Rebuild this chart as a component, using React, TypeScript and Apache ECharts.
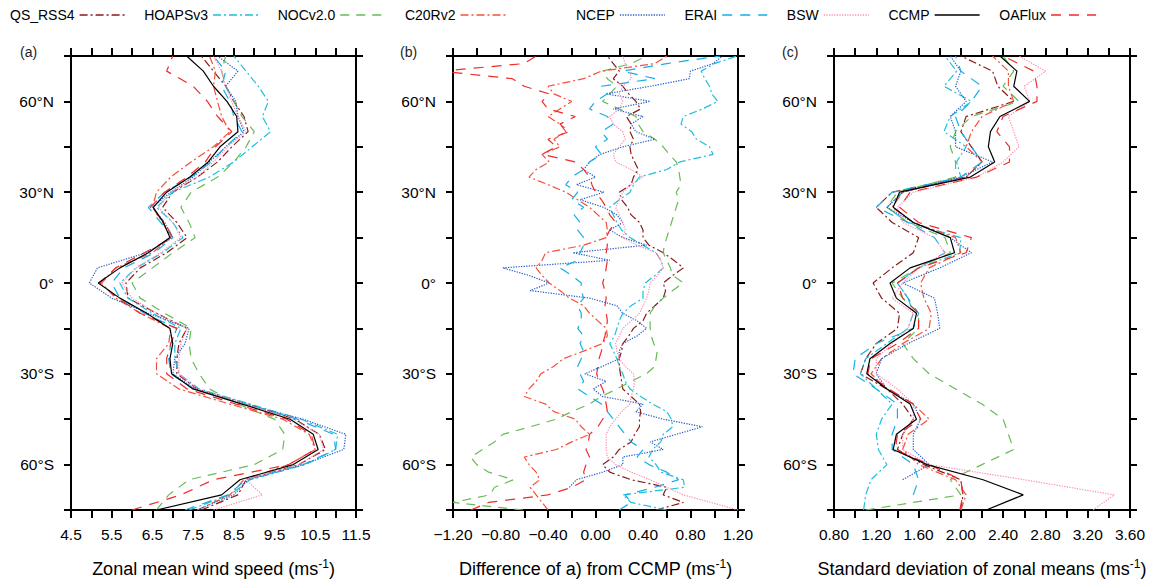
import React, { useEffect, useRef } from 'react';
import * as echarts from 'echarts';

// Latitudes (degrees, south negative) for panels (a) and (c)
const LAT = [-75, -70, -65, -60, -55, -50, -45, -40, -35, -30, -25, -20, -15, -10, -5, 0, 5, 10, 15, 20, 25, 30, 35, 40, 45, 50, 55, 60, 65, 70, 75];
// Finer latitudes for panel (b)
const LAT_B = [-75, -72.5, -70, -67.5, -65, -62.5, -60, -57.5, -55, -52.5, -50, -47.5, -45, -42.5, -40, -37.5, -35, -32.5, -30, -27.5, -25, -22.5, -20, -17.5, -15, -12.5, -10, -7.5, -5, -2.5, 0, 2.5, 5, 7.5, 10, 12.5, 15, 17.5, 20, 22.5, 25, 27.5, 30, 32.5, 35, 37.5, 40, 42.5, 45, 47.5, 50, 52.5, 55, 57.5, 60, 62.5, 65, 67.5, 70, 72.5, 75];

const LEGEND_LEFT = ['QS_RSS4', 'HOAPSv3', 'NOCv2.0', 'C20Rv2'];
const LEGEND_RIGHT = ['NCEP', 'ERAI', 'BSW', 'CCMP', 'OAFlux'];
const NAMES = [...LEGEND_LEFT, ...LEGEND_RIGHT];

// ---- Panel (a): zonal mean wind speed (m/s)
const QS_RSS4_A = [7.7, 8.6, 8.8, 10.1, 10.75, 10.6, 10.0, 8.85, 7.6, 7.1, 7.1, 7.15, 7.35, 6.6, 5.9, 5.85, 6.2, 6.85, 7.35, 7.1, 6.75, 7.0, 7.6, 8.1, 8.45, 8.85, 8.75, 8.5, 8.3, 8.0, 7.7];
const HOAPSV3_A = [7.4, 8.4, 8.9, 10.25, 11.0, 11.05, 10.15, 8.9, 7.65, 7.15, 7.05, 7.05, 7.2, 6.5, 5.9, 5.7, 6.1, 6.75, 7.25, 7.0, 6.6, 7.0, 7.9, 8.5, 8.95, 9.4, 9.2, 9.35, 9.1, 8.8, 8.5];
const NOCV2_A = [6.6, 6.9, 7.4, 9.0, 9.7, 9.75, 9.5, 8.6, 7.9, 7.65, 7.45, 7.4, 7.45, 6.8, 6.2, 6.0, 6.5, 7.0, 7.55, 7.4, 7.2, 7.45, 8.1, 8.5, 8.8, 9.0, 8.7, 8.5, 8.3, 8.2, 8.3];
const C20RV2_A = [7.6, 8.4, 8.75, 9.85, 10.5, 10.35, 9.7, 8.4, 7.15, 6.6, 6.6, 6.9, 6.95, 6.2, 5.6, 5.25, 5.6, 6.5, 6.95, 6.75, 6.5, 6.6, 6.95, 7.45, 8.0, 8.4, 8.2, 8.1, 8.0, 8.05, 7.9];
const NCEP_A = [7.6, 8.5, 8.85, 10.2, 11.2, 11.25, 10.2, 8.75, 7.55, 7.0, 7.05, 7.3, 7.4, 6.4, 5.5, 4.95, 5.15, 6.35, 7.0, 6.8, 6.5, 6.95, 7.5, 7.9, 8.3, 8.75, 8.6, 8.55, 8.3, 8.6, 8.1];
const ERAI_A = [7.3, 8.35, 8.8, 10.2, 11.0, 10.95, 10.05, 8.8, 7.5, 6.95, 6.9, 6.95, 7.1, 6.3, 5.7, 5.5, 5.8, 6.55, 7.0, 6.7, 6.4, 6.8, 7.45, 7.95, 8.3, 8.7, 8.5, 8.4, 8.2, 8.3, 8.0];
const BSW_A = [8.0, 9.2, 8.8, 10.1, 10.7, 10.6, 9.95, 8.8, 7.6, 7.15, 7.15, 7.2, 7.35, 6.6, 6.0, 5.75, 6.1, 6.7, 7.2, 7.0, 6.65, 6.95, 7.6, 8.0, 8.35, 8.8, 8.6, 8.45, 8.3, 8.2, 8.0];
const CCMP_A = [6.6, 8.2, 8.65, 9.96, 10.57, 10.45, 9.88, 8.7, 7.5, 6.97, 6.93, 7.0, 6.93, 6.36, 5.7, 5.17, 5.7, 6.4, 6.93, 6.77, 6.52, 6.85, 7.42, 7.87, 8.16, 8.6, 8.57, 8.33, 8.0, 7.75, 7.34];
const OAFLUX_A = [6.0, 7.2, 8.0, 9.85, 10.5, 10.4, 9.8, 8.55, 7.35, 6.85, 6.85, 6.95, 7.1, 6.2, 5.65, 5.2, 5.6, 6.3, 7.0, 6.8, 6.45, 6.8, 7.35, 7.8, 8.05, 8.45, 8.1, 7.85, 7.5, 6.85, 7.0];

// ---- Panel (b): difference from CCMP (m/s), on LAT_B
const QS_RSS4_B = [0.51, 0.74, 0.57, 0.6, 0.3, 0.12, 0.06, 0.15, 0.2, 0.3, 0.33, 0.37, 0.37, 0.38, 0.37, 0.3, 0.23, 0.22, 0.21, 0.2, 0.2, 0.22, 0.23, 0.28, 0.32, 0.4, 0.43, 0.5, 0.57, 0.59, 0.57, 0.65, 0.74, 0.66, 0.57, 0.45, 0.4, 0.4, 0.37, 0.3, 0.27, 0.22, 0.2, 0.3, 0.32, 0.36, 0.33, 0.3, 0.29, 0.32, 0.29, 0.3, 0.26, 0.38, 0.34, 0.28, 0.23, 0.15, 0.2, 0.15, 0.1];
const HOAPSV3_B = [0.6, 0.3, 0.23, 0.75, 0.74, 0.55, 0.51, 0.45, 0.48, 0.55, 0.57, 0.65, 0.64, 0.6, 0.48, 0.38, 0.29, 0.25, 0.23, 0.2, 0.18, 0.15, 0.12, 0.16, 0.18, 0.2, 0.23, 0.3, 0.4, 0.4, 0.42, 0.5, 0.57, 0.55, 0.51, 0.4, 0.29, 0.22, 0.18, 0.15, 0.12, 0.2, 0.29, 0.32, 0.37, 0.6, 0.71, 0.99, 0.96, 0.85, 0.81, 0.72, 0.74, 0.9, 1.03, 0.98, 0.96, 0.92, 0.89, 1.0, 1.19];
const NOCV2_B = [-0.61, -1.2, -0.89, -0.85, -0.69, -0.9, -1.0, -1.05, -0.95, -0.85, -0.78, -0.55, -0.33, -0.2, -0.05, 0.05, 0.18, 0.3, 0.43, 0.5, 0.51, 0.52, 0.49, 0.47, 0.46, 0.46, 0.46, 0.5, 0.57, 0.65, 0.74, 0.65, 0.63, 0.6, 0.57, 0.58, 0.6, 0.62, 0.64, 0.66, 0.68, 0.7, 0.68, 0.72, 0.71, 0.7, 0.68, 0.62, 0.57, 0.5, 0.4, 0.36, 0.34, 0.2, 0.06, 0.12, 0.18, 0.1, 0.06, 0.3, 0.43];
const C20RV2_B = [-0.4, -0.45, -0.5, -0.55, -0.47, -0.5, -0.56, -0.6, -0.33, -0.2, -0.05, -0.12, -0.17, -0.35, -0.42, -0.6, -0.56, -0.5, -0.46, -0.35, -0.27, -0.1, 0.06, 0.1, 0.09, 0.02, -0.05, -0.1, -0.22, -0.3, -0.39, -0.45, -0.5, -0.45, -0.42, -0.1, 0.09, 0.1, 0.09, 0.02, -0.05, -0.15, -0.25, -0.4, -0.56, -0.5, -0.39, -0.45, -0.3, -0.35, -0.25, -0.3, -0.4, -0.3, -0.2, -0.35, -0.4, -0.1, 0.05, 0.5, 0.6];
const NCEP_B = [null, null, null, -0.22, -0.16, 0.06, 0.23, 0.23, 0.57, 0.46, 0.68, 0.9, 0.57, 0.34, 0.4, 0.06, -0.02, 0.09, -0.09, 0.06, 0.2, 0.2, 0.23, 0.35, 0.43, 0.35, 0.23, 0.18, -0.05, -0.55, -0.39, -0.56, -0.78, 0.12, -0.19, 0.43, 0.23, 0.12, 0.23, 0.18, 0.07, -0.13, 0.07, -0.16, 0.0, -0.1, -0.05, 0.04, 0.23, 0.5, 0.34, 0.3, 0.4, 0.15, 0.46, 0.09, 0.46, 0.79, 0.8, 0.99, 1.07];
const ERAI_B = [0.2, 0.3, 0.25, 0.5, 0.7, 0.6, 0.45, 0.35, 0.4, 0.3, 0.25, 0.2, 0.15, 0.1, 0.05, -0.05, -0.15, -0.1, -0.13, -0.15, -0.12, -0.1, -0.13, -0.1, -0.15, -0.12, -0.12, -0.15, -0.1, -0.12, -0.12, -0.2, -0.3, -0.15, -0.13, -0.1, -0.1, -0.15, -0.13, -0.18, -0.1, -0.2, -0.15, -0.25, -0.2, -0.1, -0.05, 0.05, 0.0, 0.1, 0.05, 0.15, 0.1, -0.05, 0.0, 0.1, 0.05, 0.5, 0.23, 0.6, 1.05];
const BSW_B = [1.2, 0.97, 0.74, 0.6, 0.46, 0.3, 0.17, 0.1, 0.09, 0.09, 0.09, 0.12, 0.17, 0.22, 0.29, 0.3, 0.32, 0.33, 0.32, 0.25, 0.2, 0.18, 0.17, 0.2, 0.23, 0.3, 0.37, 0.4, 0.43, 0.45, 0.46, 0.52, 0.57, 0.55, 0.51, 0.35, 0.23, 0.25, 0.23, 0.2, 0.17, 0.2, 0.23, 0.3, 0.4, 0.3, 0.17, 0.15, 0.2, 0.25, 0.23, 0.15, 0.12, 0.2, 0.23, 0.2, 0.23, 0.3, 0.29, 0.25, 0.23];
const OAFLUX_B = [-1.05, -0.9, -0.4, -0.2, -0.08, -0.1, -0.08, -0.05, -0.08, -0.06, -0.05, 0.02, 0.06, 0.1, 0.09, 0.08, 0.06, 0.03, 0.01, 0.02, 0.03, 0.05, 0.06, 0.08, 0.09, 0.1, 0.09, 0.08, 0.09, 0.08, 0.06, 0.08, 0.09, 0.1, 0.09, 0.1, 0.09, 0.12, 0.17, 0.12, 0.09, 0.05, 0.0, -0.03, -0.05, -0.1, -0.17, -0.45, -0.33, -0.4, -0.22, -0.3, -0.17, -0.4, -0.45, -0.39, -0.6, -0.7, -1.3, -0.6, -0.5];

// ---- Panel (c): standard deviation of zonal means (m/s)
const QS_RSS4_C = [2.0, 2.02, 2.0, 1.65, 1.4, 1.45, 1.55, 1.45, 1.3, 1.05, 1.1, 1.2, 1.4, 1.42, 1.25, 1.17, 1.35, 1.55, 1.6, 1.35, 1.2, 1.35, 2.05, 2.2, 2.1, 2.0, 2.05, 2.5, 2.35, 2.3, 2.0];
const HOAPSV3_C = [1.08, 1.1, 1.15, 1.3, 1.22, 1.2, 1.25, 1.35, 1.2, 1.05, 1.1, 1.3, 1.5, 1.55, 1.5, 1.4, 1.6, 1.99, 2.0, 1.5, 1.3, 1.45, 2.0, 1.96, 2.05, 1.84, 1.9, 2.1, 1.84, 1.96, 1.85];
const NOCV2_C = [1.1, 2.0, 1.9, 2.2, 2.5, 2.45, 2.4, 2.2, 1.95, 1.7, 1.55, 1.45, 1.6, 1.6, 1.45, 1.35, 1.6, 1.9, 1.85, 1.5, 1.3, 1.4, 1.95, 1.95, 1.9, 1.95, 2.1, 2.55, 2.4, 2.5, 2.4];
const C20RV2_C = [2.0, 2.05, 1.95, 1.6, 1.45, 1.5, 1.7, 1.55, 1.3, 1.15, 1.25, 1.45, 1.7, 1.72, 1.65, 1.62, 1.7, 2.0, 1.95, 1.55, 1.35, 1.45, 2.05, 2.2, 2.05, 2.1, 2.2, 2.5, 2.45, 2.45, 2.3];
const NCEP_C = [null, null, 1.45, 1.7, 1.55, 1.55, 1.62, 1.55, 1.3, 1.2, 1.25, 1.5, 1.8, 1.78, 1.75, 1.45, 1.8, 2.1, 1.9, 1.55, 1.3, 1.45, 2.0, 2.3, 1.95, 1.95, 1.9, 2.05, 1.95, 2.0, 1.9];
const ERAI_C = [null, 1.55, 1.6, 1.55, 1.35, 1.35, 1.4, 1.4, 1.2, 0.98, 1.0, 1.2, 1.55, 1.6, 1.5, 1.4, 1.6, 1.85, 1.75, 1.5, 1.2, 1.35, 2.0, 2.2, 2.1, 2.0, 1.95, 2.1, 2.2, 2.0, 1.95];
const BSW_C = [3.25, 3.45, 2.6, 1.7, 1.45, 1.45, 1.55, 1.55, 1.4, 1.2, 1.2, 1.35, 1.5, 1.55, 1.35, 1.45, 1.6, 1.85, 1.75, 1.45, 1.4, 1.55, 2.15, 2.4, 2.55, 2.5, 2.45, 2.65, 2.6, 2.8, 2.55];
const CCMP_C = [2.24, 2.59, 2.21, 1.68, 1.36, 1.39, 1.58, 1.52, 1.3, 1.11, 1.14, 1.33, 1.55, 1.58, 1.39, 1.33, 1.52, 1.94, 1.9, 1.55, 1.36, 1.42, 2.09, 2.32, 2.26, 2.28, 2.37, 2.65, 2.5, 2.53, 2.37];
const OAFLUX_C = [1.99, 2.02, 2.0, 1.7, 1.38, 1.4, 1.62, 1.55, 1.32, 1.12, 1.15, 1.4, 1.6, 1.6, 1.45, 1.4, 1.6, 2.05, 2.1, 1.6, 1.42, 1.52, 2.15, 2.46, 2.46, 2.34, 2.4, 2.72, 2.72, 2.69, 2.4];

// ---- Tick labels
const LAT_TICKS = [-60, -30, 0, 30, 60];
const LAT_TICK_LABELS = ['60°S', '30°S', '0°', '30°N', '60°N'];
const A_TICKS = [4.5, 5.5, 6.5, 7.5, 8.5, 9.5, 10.5, 11.5];
const A_TICK_LABELS = ['4.5', '5.5', '6.5', '7.5', '8.5', '9.5', '10.5', '11.5'];
const B_TICKS = [-1.2, -0.8, -0.4, 0, 0.4, 0.8, 1.2];
const B_TICK_LABELS = ['\u22121.20', '\u22120.80', '\u22120.40', '0.00', '0.40', '0.80', '1.20'];
const C_TICKS = [0.8, 1.2, 1.6, 2.0, 2.4, 2.8, 3.2, 3.6];
const C_TICK_LABELS = ['0.80', '1.20', '1.60', '2.00', '2.40', '2.80', '3.20', '3.60'];

const PANEL_TITLES = ['(a)', '(b)', '(c)'];
const AXIS_TITLES = ['Zonal mean wind speed (ms{sup|-1})', 'Difference of a) from CCMP (ms{sup|-1})', 'Standard deviation of zonal means (ms{sup|-1})'];

const PANEL_LATS = [LAT, LAT_B, LAT];
const PANEL_DATA: Record<string, (number | null)[]>[] = [
  { QS_RSS4: QS_RSS4_A, HOAPSv3: HOAPSV3_A, 'NOCv2.0': NOCV2_A, C20Rv2: C20RV2_A, NCEP: NCEP_A, ERAI: ERAI_A, BSW: BSW_A, CCMP: CCMP_A, OAFlux: OAFLUX_A },
  { QS_RSS4: QS_RSS4_B, HOAPSv3: HOAPSV3_B, 'NOCv2.0': NOCV2_B, C20Rv2: C20RV2_B, NCEP: NCEP_B, ERAI: ERAI_B, BSW: BSW_B, OAFlux: OAFLUX_B },
  { QS_RSS4: QS_RSS4_C, HOAPSv3: HOAPSV3_C, 'NOCv2.0': NOCV2_C, C20Rv2: C20RV2_C, NCEP: NCEP_C, ERAI: ERAI_C, BSW: BSW_C, CCMP: CCMP_C, OAFlux: OAFLUX_C },
];

const LINE_STYLES: Record<string, { color: string; type: any }> = {
  QS_RSS4: { color: '#8b1a1a', type: [8, 3, 2, 3] },
  HOAPSv3: { color: '#1cc0dc', type: [8, 3, 2, 3] },
  'NOCv2.0': { color: '#66bb55', type: [9, 7] },
  C20Rv2: { color: '#f5503a', type: [8, 3, 2, 3] },
  NCEP: { color: '#2a5fc8', type: [1.3, 1.3] },
  ERAI: { color: '#14aee8', type: [10, 8] },
  BSW: { color: '#ff8fb0', type: [1.3, 1.3] },
  CCMP: { color: '#000000', type: 'solid' },
  OAFlux: { color: '#ee2b2b', type: [10, 8] },
};

const FONT = '"Liberation Sans", Arial, Helvetica, sans-serif';

const GRIDS = [
  { left: 71, top: 56, width: 285, height: 459 },
  { left: 453, top: 56, width: 285, height: 459 },
  { left: 834, top: 56, width: 296, height: 459 },
];
const X_RANGES = [
  { min: 4.5, max: 11.5, interval: 0.5, ticks: A_TICKS, labels: A_TICK_LABELS },
  { min: -1.2, max: 1.2, interval: 0.2, ticks: B_TICKS, labels: B_TICK_LABELS },
  { min: 0.8, max: 3.6, interval: 0.2, ticks: C_TICKS, labels: C_TICK_LABELS },
];

function lookup(ticks: number[], labels: string[], v: number) {
  const i = ticks.findIndex((t) => Math.abs(t - v) < 1e-6);
  return i >= 0 ? labels[i] : '';
}

const axisLine = { show: true, onZero: false, lineStyle: { color: '#000', width: 2 } };
const axisTick = { show: true, inside: false, length: 8, lineStyle: { color: '#000', width: 2 } };

function legendOf(names: string[], left: number) {
  return {
    data: names, left, top: 3, align: 'right', itemWidth: 45, itemHeight: 14, itemGap: 19,
    textStyle: { fontSize: 14, color: '#000', fontFamily: FONT },
    itemStyle: { opacity: 0 },
    lineStyle: { width: 1.3 },
    selectedMode: false,
  };
}

export default function App() {
  const ref = useRef<HTMLDivElement>(null);
  useEffect(() => {
    const chart = echarts.init(ref.current!, null, { renderer: 'svg' });
    const xAxis: any[] = [];
    const yAxis: any[] = [];
    const series: any[] = [];
    GRIDS.forEach((g, p) => {
      const r = X_RANGES[p];
      xAxis.push({
        gridIndex: p, type: 'value', position: 'bottom', min: r.min, max: r.max, interval: r.interval,
        axisLine, axisTick, splitLine: { show: false },
        axisLabel: {
          show: true, margin: 16, color: '#000', fontSize: 15.5, fontFamily: FONT, showMinLabel: true, showMaxLabel: true,
          formatter: (v: number) => lookup(r.ticks, r.labels, v),
        },
        name: AXIS_TITLES[p], nameLocation: 'middle', nameGap: 48,
        nameTextStyle: { color: '#000', fontSize: 18, fontFamily: FONT, lineHeight: 22, rich: { sup: { fontSize: 12, lineHeight: 12, verticalAlign: 'top', fontFamily: FONT, color: '#000' } } },
      });
      xAxis.push({
        gridIndex: p, type: 'value', position: 'top', min: r.min, max: r.max, interval: r.interval,
        axisLine, axisTick, splitLine: { show: false }, axisLabel: { show: false },
      });
      yAxis.push({
        gridIndex: p, type: 'value', position: 'left', min: -75, max: 75, interval: 15,
        axisLine, axisTick: { ...axisTick, length: 7 }, splitLine: { show: false },
        axisLabel: {
          show: true, margin: 17, color: '#000', fontSize: 15.5, fontFamily: FONT,
          formatter: (v: number) => lookup(LAT_TICKS, LAT_TICK_LABELS, v),
        },
      });
      yAxis.push({
        gridIndex: p, type: 'value', position: 'right', min: -75, max: 75, interval: 15,
        axisLine, axisTick: { ...axisTick, length: 7 }, splitLine: { show: false }, axisLabel: { show: false },
      });
      const data = PANEL_DATA[p];
      const lats = PANEL_LATS[p];
      NAMES.forEach((name) => {
        const vals = data[name];
        if (!vals) return;
        const pts: number[][] = [];
        lats.forEach((lat, i) => {
          const v = vals[i];
          if (v !== null && v !== undefined) pts.push([v, lat]);
        });
        series.push({
          name, type: 'line', xAxisIndex: p * 2, yAxisIndex: p * 2, data: pts,
          showSymbol: false, symbol: 'none', clip: true, z: name === 'CCMP' ? 5 : 2,
          lineStyle: { color: LINE_STYLES[name].color, type: LINE_STYLES[name].type, width: 1.2 },
          itemStyle: { color: LINE_STYLES[name].color },
        });
      });
    });

    chart.setOption({
      animation: false,
      backgroundColor: '#fff',
      textStyle: { fontFamily: FONT },
      legend: [legendOf(LEGEND_LEFT, 5), legendOf(LEGEND_RIGHT, 571)],
      grid: GRIDS.map((g) => ({ ...g, containLabel: false })),
      xAxis, yAxis, series,
      graphic: PANEL_TITLES.map((t, p) => ({
        type: 'text', left: [20, 400, 782][p], top: 45,
        style: { text: t, fontSize: 14, fill: '#222', font: `14px ${FONT}` },
      })),
    });
    return () => chart.dispose();
  }, []);
  return <div ref={ref} style={{ position: 'fixed', left: 0, top: 0, width: 1156, height: 585, background: '#fff' }} />;
}
